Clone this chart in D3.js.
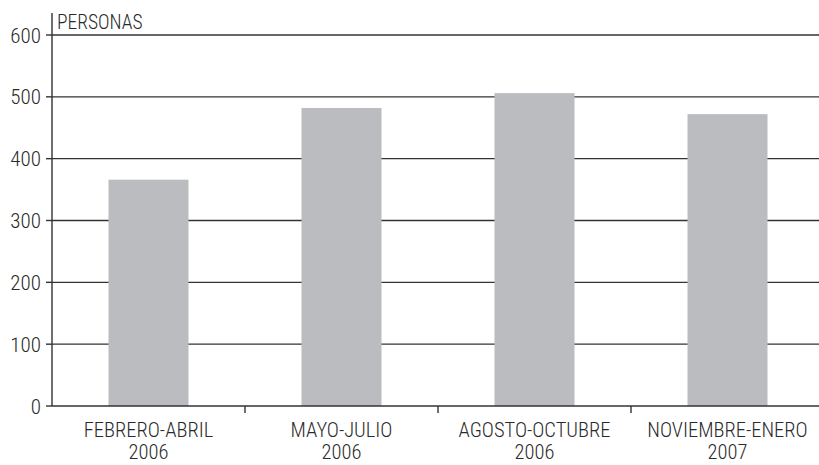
<!DOCTYPE html>
<html>
<head>
<meta charset="utf-8">
<script src="https://cdn.jsdelivr.net/npm/d3@7"></script>
<style>
  body { margin: 0; background: #fff; }
  svg { display: block; }
  text { font-family: "Liberation Sans Narrow", "Roboto Condensed", "Liberation Sans", sans-serif; font-weight: 300; fill: #2a2a2a; }
</style>
</head>
<body>
<svg id="chart" width="819" height="465"></svg>
<script>
// Datos
const periodos = ["FEBRERO-ABRIL", "MAYO-JULIO", "AGOSTO-OCTUBRE", "NOVIEMBRE-ENERO"];
const anios = ["2006", "2006", "2006", "2007"];
const personas = [366, 482, 506, 472];
const yTicks = [0, 100, 200, 300, 400, 500, 600];

const width = 819;
const height = 465;
const left = 52;
const bottom = 406;

const svg = d3.select("#chart");

const x = d3.scaleBand()
  .domain(periodos)
  .range([left, left + 4 * 193])
  .paddingInner(0)
  .paddingOuter(0);

const y = d3.scaleLinear()
  .domain([0, 600])
  .range([bottom, 35]);

const barW = 80;

// Cuadrícula horizontal (las barras la tapan)
const grid = svg.append("g");
yTicks.forEach((t) => {
  if (t === 0) return;
  grid.append("line")
    .attr("x1", left)
    .attr("x2", width)
    .attr("y1", y(t))
    .attr("y2", y(t))
    .attr("stroke", "#333")
    .attr("stroke-width", 1.4);
});

// Barras
svg.append("g")
  .selectAll("rect")
  .data(periodos)
  .enter()
  .append("rect")
  .attr("x", (d) => x(d) + x.bandwidth() / 2 - barW / 2)
  .attr("y", (d, i) => y(personas[i]))
  .attr("width", barW)
  .attr("height", (d, i) => bottom - y(personas[i]))
  .attr("fill", "#bbbcc0");

// Eje Y
const yAxis = svg.append("g");
yAxis.append("line")
  .attr("x1", left).attr("x2", left)
  .attr("y1", 13).attr("y2", bottom)
  .attr("stroke", "#333").attr("stroke-width", 1.4);
yAxis.selectAll("line.tick")
  .data(yTicks)
  .enter()
  .append("line")
  .attr("class", "tick")
  .attr("x1", left - 6).attr("x2", left)
  .attr("y1", (d) => y(d)).attr("y2", (d) => y(d))
  .attr("stroke", "#333").attr("stroke-width", 1.4);
yAxis.selectAll("text")
  .data(yTicks)
  .enter()
  .append("text")
  .attr("x", left - 11)
  .attr("y", (d) => y(d) + 7.5)
  .attr("text-anchor", "end")
  .style("font-size", "21px")
  .text((d) => d);

svg.append("text")
  .attr("x", 57)
  .attr("y", 29)
  .style("font-size", "19.5px")
  .text("PERSONAS");

// Eje X
const xAxis = svg.append("g");
xAxis.append("line")
  .attr("x1", left).attr("x2", width)
  .attr("y1", bottom).attr("y2", bottom)
  .attr("stroke", "#333").attr("stroke-width", 1.4);
xAxis.selectAll("line.tick")
  .data(periodos.slice(1))
  .enter()
  .append("line")
  .attr("class", "tick")
  .attr("x1", (d) => x(d)).attr("x2", (d) => x(d))
  .attr("y1", bottom).attr("y2", bottom + 7)
  .attr("stroke", "#333").attr("stroke-width", 1.4);

const labels = xAxis.selectAll("text")
  .data(periodos)
  .enter()
  .append("text")
  .attr("text-anchor", "middle")
  .style("font-size", "20.5px");
labels.append("tspan")
  .attr("x", (d) => x(d) + x.bandwidth() / 2)
  .attr("y", 437)
  .text((d) => d);
labels.append("tspan")
  .attr("x", (d) => x(d) + x.bandwidth() / 2)
  .attr("y", 459)
  .text((d, i) => anios[i]);
</script>
</body>
</html>
